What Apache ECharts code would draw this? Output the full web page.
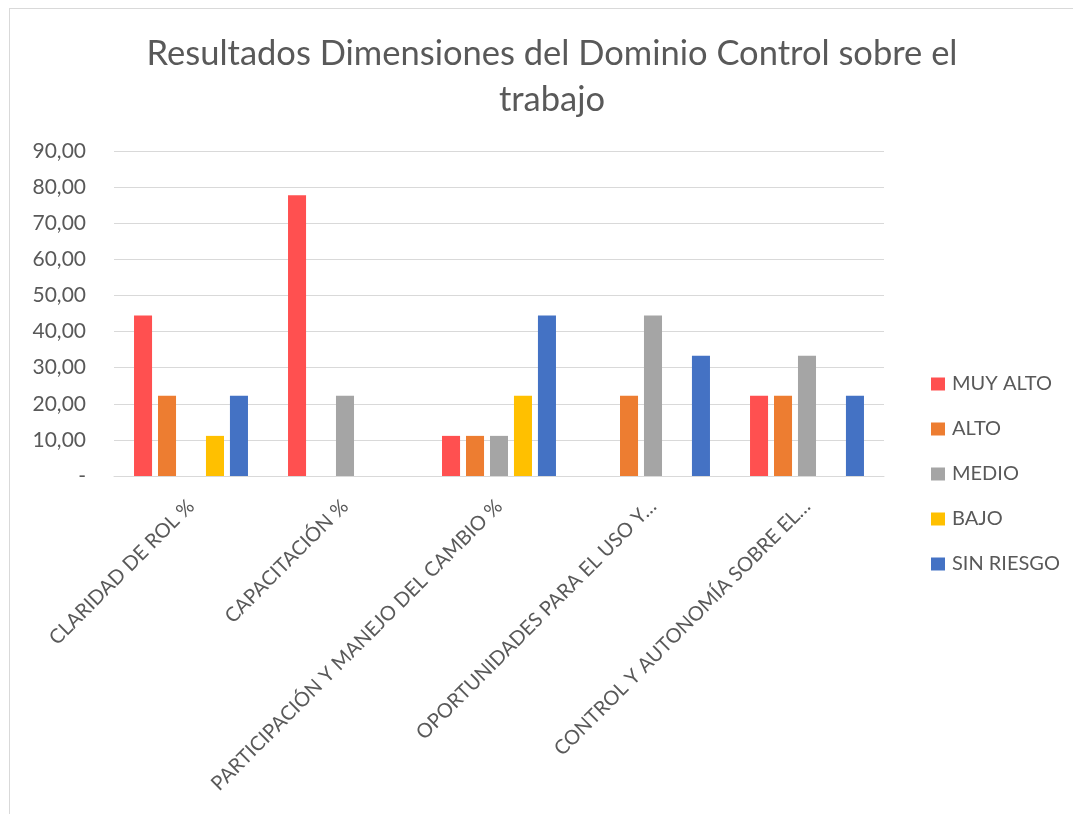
<!DOCTYPE html>
<html>
<head>
<meta charset="utf-8">
<script src="https://cdn.jsdelivr.net/npm/echarts@6/dist/echarts.min.js"></script>
<style>
  html, body { margin: 0; padding: 0; background: #fff; }
  #frame { position: absolute; left: 9px; top: 8px; width: 1100px; height: 900px; border: 1px solid #d9d9d9; }
  #chart { position: absolute; left: 0; top: 0; width: 1073px; height: 814px; }
</style>
</head>
<body>
<div id="frame"></div>
<div id="chart"></div>
<script>
const categories = [
  'CLARIDAD DE ROL %',
  'CAPACITACIÓN %',
  'PARTICIPACIÓN Y MANEJO DEL CAMBIO %',
  'OPORTUNIDADES PARA EL USO Y…',
  'CONTROL Y AUTONOMÍA SOBRE EL…',
]
const muyAlto = [44.44, 77.78, 11.11, 0, 22.22]
const alto = [22.22, 0, 11.11, 22.22, 22.22]
const medio = [0, 22.22, 11.11, 44.44, 33.33]
const bajo = [11.11, 0, 22.22, 0, 0]
const sinRiesgo = [22.22, 0, 44.44, 33.33, 22.22]
const seriesNames = ['MUY ALTO', 'ALTO', 'MEDIO', 'BAJO', 'SIN RIESGO']
const colors = ['#ff5050', '#ed7d31', '#a5a5a5', '#ffc000', '#4472c4']

const font = 'Lato, "Liberation Sans", sans-serif'
const chart = echarts.init(document.getElementById('chart'))

const bar = (name, data) => ({
  name,
  type: 'bar',
  data: data.map(v => (v === 0 ? null : v)),
  barGap: '33%',
  barCategoryGap: '26%',
})

chart.setOption({
  animation: false,
  color: colors,
  title: {
    text: 'Resultados Dimensiones del Dominio Control sobre el\ntrabajo',
    left: 547,
    textAlign: 'center',
    top: 26,
    textStyle: { fontFamily: font, fontSize: 34.5, fontWeight: 'normal', color: '#595959', lineHeight: 46 },
  },
  legend: {
    orient: 'vertical',
    left: 926,
    top: 369,
    itemWidth: 14,
    itemHeight: 13,
    itemGap: 25,
    icon: 'rect',
    textStyle: { fontFamily: font, fontSize: 20, color: '#595959', padding: [0, 0, 0, 2] },
    data: seriesNames,
  },
  grid: { left: 114, right: 189, top: 151, bottom: 338, containLabel: false },
  xAxis: {
    type: 'category',
    data: categories,
    axisLine: { lineStyle: { color: '#d9d9d9', width: 1 } },
    axisTick: { show: false },
    axisLabel: {
      rotate: 45,
      interval: 0,
      margin: 27,
      fontFamily: font,
      fontSize: 20,
      color: '#595959',
    },
  },
  yAxis: {
    type: 'value',
    min: 0,
    max: 90,
    interval: 10,
    axisLine: { show: false },
    axisTick: { show: false },
    splitLine: { lineStyle: { color: '#d9d9d9', width: 1 } },
    axisLabel: {
      margin: 28,
      fontFamily: font,
      fontSize: 21,
      color: '#595959',
      formatter: v => (v === 0 ? '-' : v.toFixed(2).replace('.', ',')),
    },
  },
  series: [
    bar(seriesNames[0], muyAlto),
    bar(seriesNames[1], alto),
    bar(seriesNames[2], medio),
    bar(seriesNames[3], bajo),
    bar(seriesNames[4], sinRiesgo),
  ],
})
</script>
</body>
</html>
